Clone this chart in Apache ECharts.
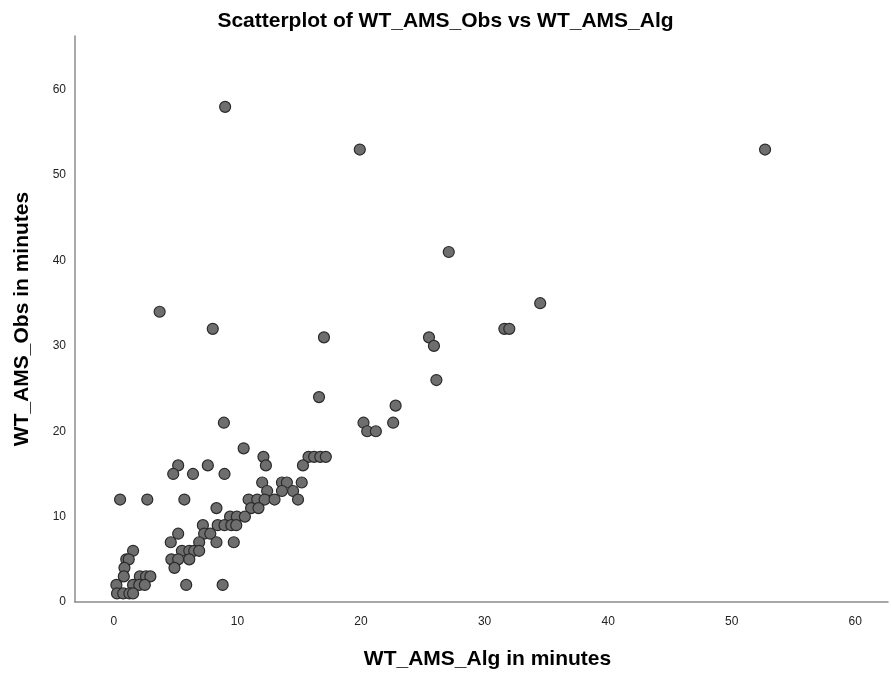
<!DOCTYPE html>
<html>
<head>
<meta charset="utf-8">
<script src="https://cdn.jsdelivr.net/npm/echarts@6/dist/echarts.min.js"></script>
<style>html,body{margin:0;padding:0;background:#fff}#c{width:891px;height:675px}</style>
</head>
<body>
<div id="c"></div>
<script>
const algValues = [
  9.0,
  19.9, 52.7,
  27.1,
  34.5,
  3.7,
  8.0, 31.6, 32.0,
  17.0, 25.5,
  25.9,
  26.1,
  16.6,
  22.8,
  8.9, 20.2, 22.6,
  20.5, 21.2,
  10.5,
  12.1, 15.75, 16.2, 16.7, 17.15,
  5.2, 7.6, 12.3, 15.3,
  4.8, 6.4, 8.95,
  12.0, 13.6, 14.0, 15.2,
  12.4, 13.6, 14.5,
  0.5, 2.7, 5.7, 10.9, 11.6, 12.2, 13.0, 14.9,
  8.3, 11.1, 11.7,
  9.4, 9.95, 10.6,
  7.2, 8.4, 8.95, 9.5, 9.9,
  5.2, 7.3, 7.8,
  4.6, 6.9, 8.3, 9.7,
  1.55, 5.5, 6.1, 6.5, 6.9,
  1.0, 1.2, 4.65, 5.2, 6.1,
  0.85, 4.9,
  0.8, 2.1, 2.6, 2.95,
  0.2, 1.55, 2.05, 2.5, 5.85, 8.8,
  0.25, 0.75, 1.25, 1.55
];
const obsValues = [
  58,
  53, 53,
  41,
  35,
  34,
  32, 32, 32,
  31, 31,
  30,
  26,
  24,
  23,
  21, 21, 21,
  20, 20,
  18,
  17, 17, 17, 17, 17,
  16, 16, 16, 16,
  15, 15, 15,
  14, 14, 14, 14,
  13, 13, 13,
  12, 12, 12, 12, 12, 12, 12, 12,
  11, 11, 11,
  10, 10, 10,
  9, 9, 9, 9, 9,
  8, 8, 8,
  7, 7, 7, 7,
  6, 6, 6, 6, 6,
  5, 5, 5, 5, 5,
  4, 4,
  3, 3, 3, 3,
  2, 2, 2, 2, 2, 2,
  1, 1, 1, 1
];
const titleText = 'Scatterplot of WT_AMS_Obs vs WT_AMS_Alg';
const xName = 'WT_AMS_Alg in minutes';
const yName = 'WT_AMS_Obs in minutes';

const points = algValues.map((x, i) => [x, obsValues[i]]);
const chart = echarts.init(document.getElementById('c'));
const font = 'Arial, "Liberation Sans", sans-serif';
chart.setOption({
  animation: false,
  backgroundColor: '#ffffff',
  title: {
    text: titleText, left: 'center', top: 6,
    textStyle: {fontFamily: font, fontSize: 21, fontWeight: 'bold', color: '#000'}
  },
  grid: {left: 75, right: 2, top: 36, bottom: 71, containLabel: false},
  xAxis: {
    type: 'value', min: -3.15, max: 62.65, splitNumber: 6,
    name: xName, nameLocation: 'middle', nameGap: 47,
    nameTextStyle: {fontFamily: font, fontSize: 21, fontWeight: 'bold', color: '#000', padding: [0, 0, 0, 12]},
    axisLine: {show: true, onZero: false, lineStyle: {color: '#8c8c8c', width: 1.5}},
    axisTick: {show: false}, splitLine: {show: false},
    axisLabel: {fontFamily: font, fontSize: 12, color: '#222', margin: 14,
      formatter: v => (Math.abs(v % 10) < 1e-9 ? String(v) : '')}
  },
  yAxis: {
    type: 'value', min: 0, max: 66.3, splitNumber: 6,
    name: yName, nameLocation: 'middle', nameGap: 42,
    nameTextStyle: {fontFamily: font, fontSize: 21, fontWeight: 'bold', color: '#000'},
    axisLine: {show: true, onZero: false, lineStyle: {color: '#8c8c8c', width: 1.5}},
    axisTick: {show: false}, splitLine: {show: false},
    axisLabel: {fontFamily: font, fontSize: 12, color: '#222', margin: 9,
      formatter: v => (Math.abs(v % 10) < 1e-9 ? String(v) : '')}
  },
  series: [{
    type: 'scatter', data: points, symbol: 'circle', symbolSize: 11,
    itemStyle: {color: '#6e6e6e', borderColor: '#2a2a2a', borderWidth: 1.2, opacity: 1}
  }]
});
</script>
</body>
</html>
